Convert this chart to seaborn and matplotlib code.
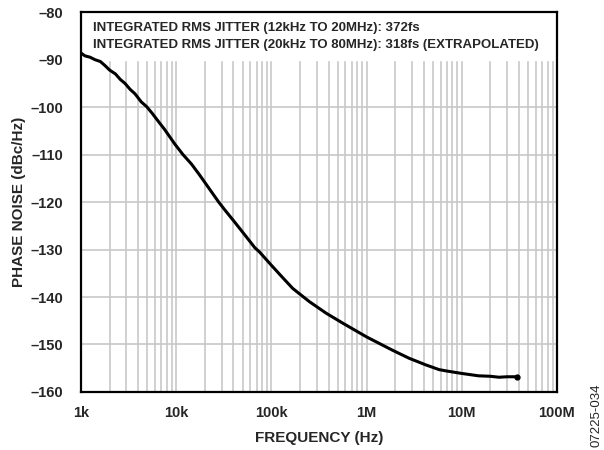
import numpy as np
import pandas as pd
import matplotlib
matplotlib.use("Agg")
import matplotlib.pyplot as plt
import seaborn as sns

# phase noise trace (Hz, dBc/Hz)
freq_hz = [1000, 1100, 1250, 1400, 1600, 1800, 2000, 2300, 2600, 2900, 3300,
           3700, 4300, 4900, 5600, 6500, 7500, 8600, 9700, 11800, 14500,
           17500, 21600, 28000, 32000, 40000, 48000, 57000, 67000, 75000,
           100000, 130000, 168000, 252000, 376000, 562000, 1000000,
           1870000, 2800000, 4200000, 5800000, 7000000, 10000000,
           15000000, 20000000, 24600000, 30000000, 38500000]
phase_noise = [-88.6, -89.2, -89.5, -90.0, -90.4, -91.3, -92.2, -93.0, -94.2,
               -95.0, -96.3, -97.2, -98.9, -99.9, -101.3, -103.0, -104.6,
               -106.3, -107.8, -110.0, -112.0, -114.2, -116.8, -120.0,
               -121.5, -123.9, -125.9, -127.8, -129.6, -130.5, -133.3,
               -135.8, -138.2, -141.0, -143.4, -145.5, -148.4, -151.2,
               -152.9, -154.3, -155.3, -155.6, -156.1, -156.6, -156.7,
               -156.9, -156.8, -156.8]

y_ticks = [-80, -90, -100, -110, -120, -130, -140, -150, -160]
x_ticks = [1e3, 1e4, 1e5, 1e6, 1e7, 1e8]
x_tick_labels = ["1k", "10k", "100k", "1M", "10M", "100M"]

note_lines = ["INTEGRATED RMS JITTER (12kHz TO 20MHz): 372fs",
              "INTEGRATED RMS JITTER (20kHz TO 80MHz): 318fs (EXTRAPOLATED)"]

df = pd.DataFrame({"freq": freq_hz, "pn": phase_noise})

sns.set_style("white")
plt.rcParams["font.family"] = ["Liberation Sans", "DejaVu Sans"]
plt.rcParams["font.weight"] = "bold"

fig = plt.figure(figsize=(6.04, 4.5), dpi=100)
ax = fig.add_axes([0.134, 0.129, 0.788, 0.844])

sns.lineplot(data=df, x="freq", y="pn", ax=ax, color="black",
             linewidth=2.2, zorder=3)
ax.plot(freq_hz[-1], phase_noise[-1], "o", color="black", markersize=3.5,
        zorder=3)

ax.set_xscale("log")
ax.set_xlim(1e3, 1e8)
ax.set_ylim(-160, -80)
ax.set_xticks(x_ticks)
ax.set_xticklabels(x_tick_labels)
ax.set_yticks(y_ticks)
ax.set_yticklabels([f"\u2013{abs(v)}" for v in y_ticks])
ax.tick_params(axis="both", which="both", length=0, labelsize=10.5)
ax.tick_params(axis="x", pad=10)
ax.tick_params(axis="y", pad=13)
for lab in ax.get_xticklabels() + ax.get_yticklabels():
    lab.set_fontweight("bold")

ax.set_axisbelow(True)
ax.grid(True, which="major", color="#c8c8c8", linewidth=1.2)
ax.grid(True, which="minor", axis="x", color="#c8c8c8", linewidth=1.2)

# white area behind the note hides the grid at the top
ax.axhspan(-90, -80, color="white", zorder=1)

for s in ax.spines.values():
    s.set_linewidth(1.6)
    s.set_color("black")

ax.set_xlabel("FREQUENCY (Hz)", fontsize=11, fontweight="bold")
ax.set_ylabel("PHASE NOISE (dBc/Hz)", fontsize=11, fontweight="bold")
ax.xaxis.set_label_coords(0.5, -0.104)
ax.yaxis.set_label_coords(-0.116, 0.5)

for i, line in enumerate(note_lines):
    ax.text(0.025, 0.973 - i * 0.043, line, transform=ax.transAxes,
            fontsize=9.5, fontweight="bold", va="top", ha="left", zorder=4)

fig.text(0.987, 0.007, "07225-034", rotation=90, fontsize=9.5,
         fontweight="normal", ha="center", va="bottom")

fig.savefig("out.png", dpi=100)
